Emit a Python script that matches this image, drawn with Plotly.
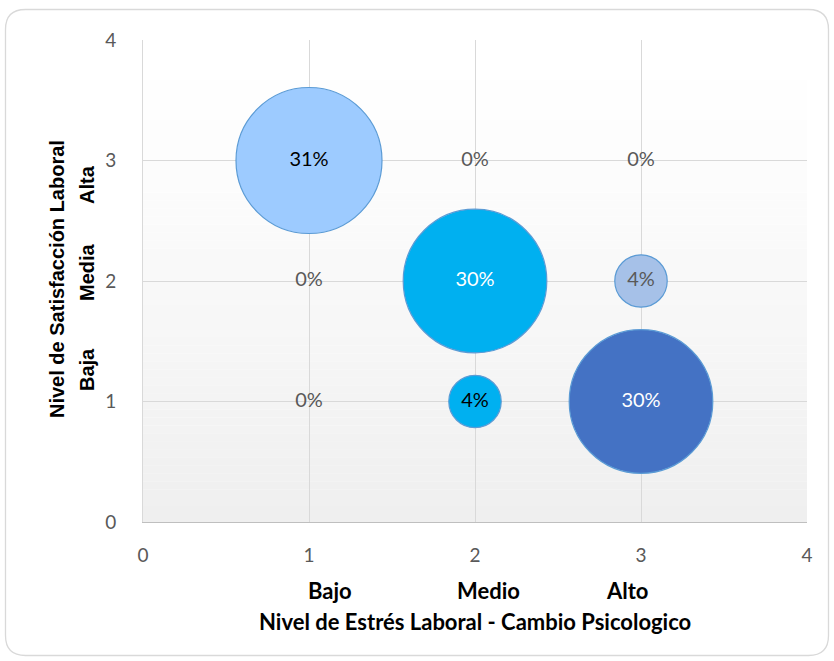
import plotly.graph_objects as go

# ---- data ----
estres = [1, 1, 1, 2, 2, 2, 3, 3, 3]          # x: Bajo, Medio, Alto
satisf = [1, 2, 3, 1, 2, 3, 1, 2, 3]          # y: Baja, Media, Alta
pct = [0, 0, 31, 4, 30, 0, 30, 4, 0]
x_cat_labels = ["Bajo", "Medio", "Alto"]
y_cat_labels = ["Baja", "Media", "Alta"]
x_title = "Nivel de Estrés Laboral - Cambio Psicologico"
y_title = "Nivel de Satisfacción Laboral"

# styles per point (index aligned with data above)
fill_colors = {2: "#9DCBFF", 3: "#00B0F0", 4: "#00B0F0", 6: "#4472C4", 7: "#A6C1E8"}
text_colors = {2: "#000000", 3: "#000000", 4: "#FFFFFF", 6: "#FFFFFF", 7: "#595959"}

W, H = 834, 661
L, R, T, B = 143, 27, 40, 139
pw, ph = W - L - R, H - T - B


def px2paper(px, py):
    return (px - L) / pw, (H - B - py) / ph


bx, by, bs, bc, bt, btc = [], [], [], [], [], []
zx, zy, zt = [], [], []
for i, (xv, yv, p) in enumerate(zip(estres, satisf, pct)):
    if p > 0:
        bx.append(xv); by.append(yv); bs.append(p)
        bc.append(fill_colors[i]); bt.append(f"{p}%"); btc.append(text_colors[i])
    else:
        zx.append(xv); zy.append(yv); zt.append(f"{p}%")

max_diam = 146
sizeref = 2.0 * max(bs) / (max_diam ** 2)

fig = go.Figure()

# gradient background bands of plot area
nb = 60
shapes = []
for k in range(nb):
    t = k / (nb - 1)
    g = 1 - t
    g = max(0.0, g) ** 1.3
    v = int(round(255 - g * (255 - 239)))
    col = f"rgb({v},{v},{v})"
    shapes.append(dict(type="rect", xref="x", yref="y", x0=0, x1=4,
                       y0=4 * k / nb, y1=4 * (k + 1) / nb + 0.001,
                       fillcolor=col, line=dict(width=0), layer="below"))

# rounded chart border
x0p, y0p = 5.5, 9.5
x1p, y1p = 828.5, 655.5
r = 20


def P(px, py):
    a, b = px2paper(px, py)
    return f"{a:.5f},{b:.5f}"


path = (f"M {P(x0p + r, y0p)} L {P(x1p - r, y0p)} Q {P(x1p, y0p)} {P(x1p, y0p + r)} "
        f"L {P(x1p, y1p - r)} Q {P(x1p, y1p)} {P(x1p - r, y1p)} "
        f"L {P(x0p + r, y1p)} Q {P(x0p, y1p)} {P(x0p, y1p - r)} "
        f"L {P(x0p, y0p + r)} Q {P(x0p, y0p)} {P(x0p + r, y0p)} Z")
shapes.append(dict(type="path", xref="paper", yref="paper", path=path,
                   line=dict(color="#D9D9D9", width=1.3), layer="below"))

fig.add_trace(go.Scatter(
    x=bx, y=by, mode="markers+text", text=bt,
    textposition="middle center",
    textfont=dict(family="Lato, Carlito, sans-serif", size=20, color=btc),
    marker=dict(size=bs, sizemode="area", sizeref=sizeref, color=bc,
                line=dict(color="#5B9BD5", width=1.2), opacity=1),
    cliponaxis=False, hoverinfo="skip", showlegend=False))

fig.add_trace(go.Scatter(
    x=zx, y=zy, mode="text", text=zt, textposition="middle center",
    textfont=dict(family="Lato, Carlito, sans-serif", size=20, color="#595959"),
    hoverinfo="skip", showlegend=False))

annotations = []
xfont = dict(family="Lato, Carlito, sans-serif", size=22, color="#000000", weight="bold")
yfont = dict(family="Liberation Sans, Arial, sans-serif", size=20, color="#000000", weight="bold")

# x category labels
for lab, cx in zip(x_cat_labels, [330, 488, 627]):
    ax_, ay_ = px2paper(cx, 590)
    annotations.append(dict(xref="paper", yref="paper", x=ax_, y=ay_, showarrow=False,
                            text=lab, font=xfont, xanchor="center", yanchor="middle"))
ax_, ay_ = px2paper(475, 621)
annotations.append(dict(xref="paper", yref="paper", x=ax_, y=ay_, showarrow=False,
                        text=x_title, font=xfont, xanchor="center", yanchor="middle"))

# y category labels
for lab, cy in zip(y_cat_labels, [370, 272, 185]):
    ax_, ay_ = px2paper(87, cy)
    annotations.append(dict(xref="paper", yref="paper", x=ax_, y=ay_, showarrow=False,
                            text=lab, textangle=-90, font=yfont,
                            xanchor="center", yanchor="middle"))
ax_, ay_ = px2paper(57, 279)
annotations.append(dict(xref="paper", yref="paper", x=ax_, y=ay_, showarrow=False,
                        text=y_title, textangle=-90, font=yfont,
                        xanchor="center", yanchor="middle"))

fig.update_layout(
    width=W, height=H,
    margin=dict(l=L, r=R, t=T, b=B),
    paper_bgcolor="white", plot_bgcolor="white",
    shapes=shapes, annotations=annotations, showlegend=False,
    xaxis=dict(range=[0, 4], tickvals=[0, 1, 2, 3, 4], showgrid=True,
               gridcolor="#D9D9D9", gridwidth=1, zeroline=False,
               showline=True, linecolor="#BFBFBF", linewidth=1,
               ticks="", ticklabelstandoff=16,
               tickfont=dict(family="Lato, Carlito, sans-serif", size=19, color="#595959")),
    yaxis=dict(range=[0, 4], tickvals=[0, 1, 2, 3, 4], showgrid=True,
               gridcolor="#D9D9D9", gridwidth=1, zeroline=False,
               showline=True, linecolor="#D9D9D9", linewidth=1,
               ticks="", ticklabelstandoff=22,
               tickfont=dict(family="Lato, Carlito, sans-serif", size=19, color="#595959")),
)

fig.write_html("out.html")
